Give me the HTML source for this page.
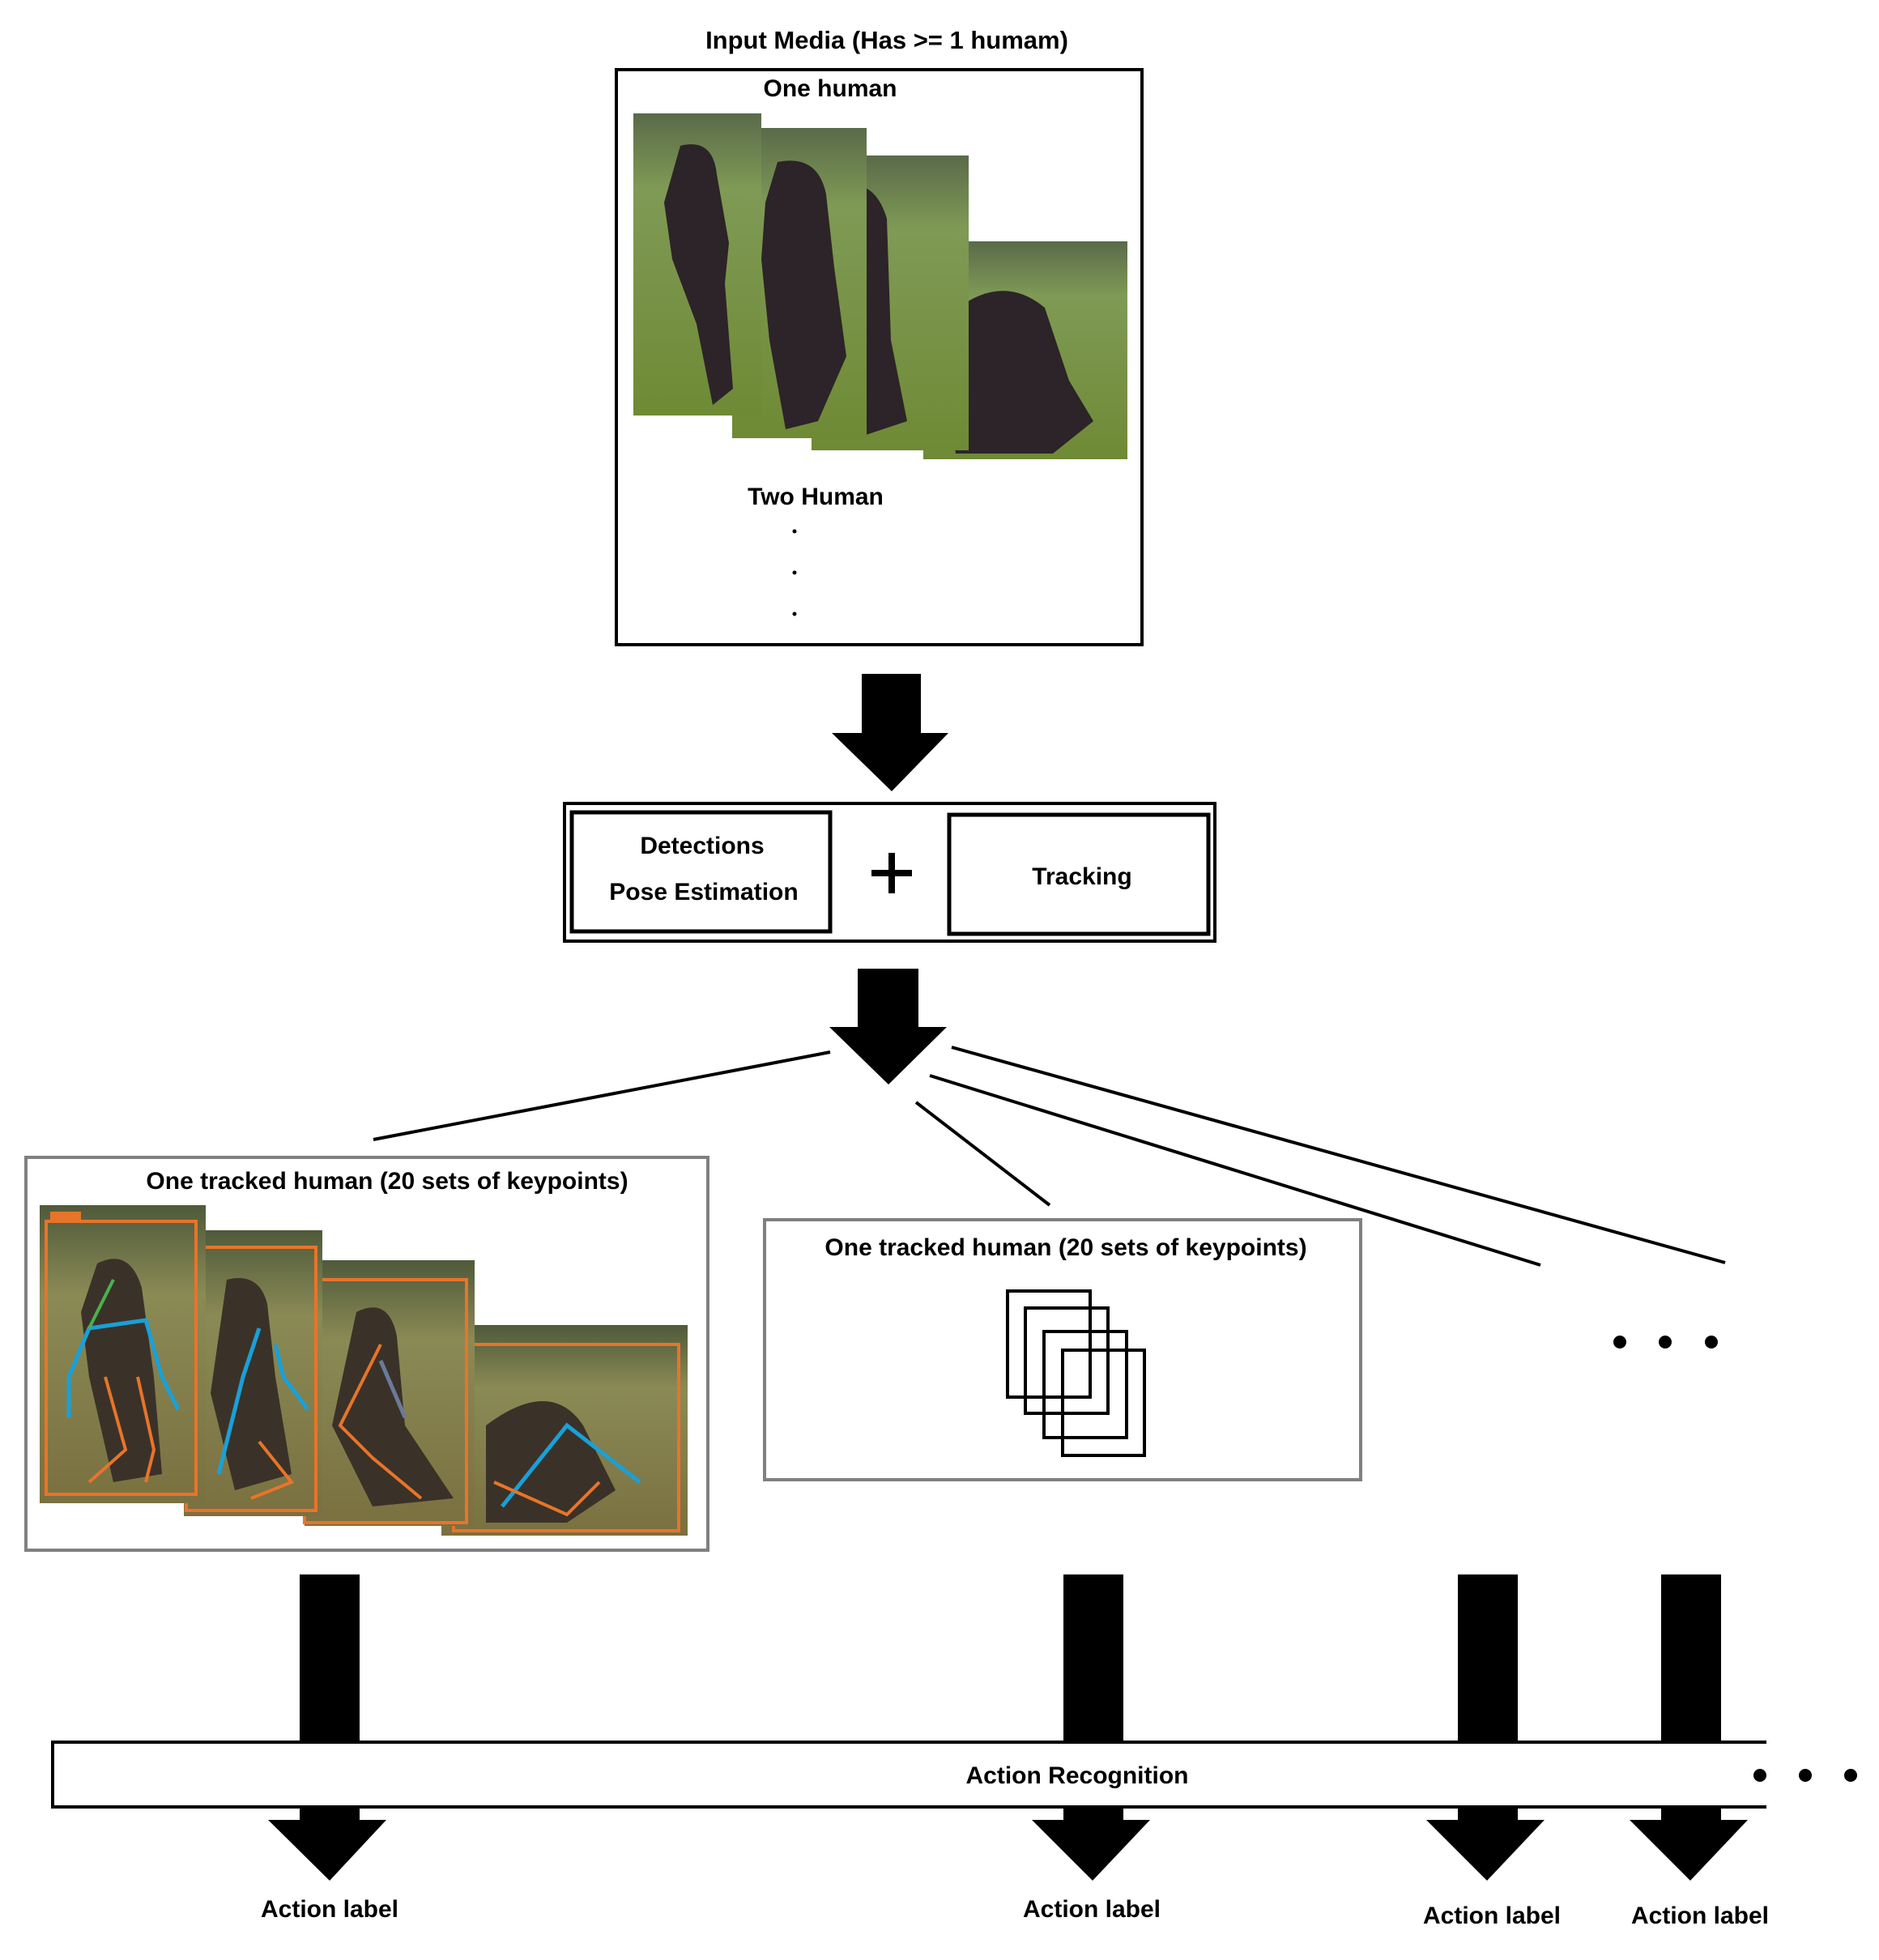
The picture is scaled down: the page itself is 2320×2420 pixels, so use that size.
<!DOCTYPE html>
<html><head><meta charset="utf-8"><style>
html,body{margin:0;padding:0;background:#fff;}
svg{display:block;}
text{font-family:"Liberation Sans",sans-serif;font-weight:bold;fill:#000;}
</style></head><body>
<svg width="2320" height="2420" viewBox="0 0 2320 2420" xmlns="http://www.w3.org/2000/svg">
<defs>
<linearGradient id="g1" x1="0" y1="0" x2="0" y2="1">
<stop offset="0" stop-color="#5a6a4a"/><stop offset="0.25" stop-color="#7f9a55"/><stop offset="1" stop-color="#6f8a35"/>
</linearGradient>
<linearGradient id="g2" x1="0" y1="0" x2="0" y2="1">
<stop offset="0" stop-color="#4f5a3a"/><stop offset="0.3" stop-color="#8a8a55"/><stop offset="1" stop-color="#7a7040"/>
</linearGradient>
</defs>

<text x="1095" y="60" font-size="31" text-anchor="middle">Input Media  (Has &gt;= 1 humam)</text>
<rect x="761" y="86" width="649" height="710" fill="none" stroke="#000" stroke-width="4"/>
<text x="1025" y="119" font-size="30" text-anchor="middle">One human</text>

<!-- top photos, drawn back to front -->
<g>
<rect x="1140" y="298" width="252" height="269" fill="url(#g1)"/>
<path d="M1160 400 Q1230 330 1290 380 L1320 470 L1350 520 L1300 560 L1180 560 Z" fill="#2c2428"/>
<rect x="1002" y="192" width="194" height="364" fill="url(#g1)"/>
<path d="M1040 230 Q1080 220 1095 270 L1100 420 L1120 520 L1060 540 L1030 470 L1005 420 L1010 300 Z" fill="#2c2428"/>
<rect x="904" y="158" width="166" height="383" fill="url(#g1)"/>
<path d="M960 200 Q1010 190 1020 240 L1030 330 L1045 440 L1010 520 L970 530 L950 420 L940 320 L945 250 Z" fill="#2c2428"/>
<rect x="782" y="140" width="158" height="373" fill="url(#g1)"/>
<path d="M840 180 Q880 170 885 215 L900 300 L895 350 L905 480 L880 500 L860 400 L830 320 L820 250 Z" fill="#2c2428"/>
</g>

<text x="1007" y="623" font-size="30" text-anchor="middle">Two Human</text>
<circle cx="981" cy="656" r="2.5" fill="#000"/>
<circle cx="981" cy="707" r="2.5" fill="#000"/>
<circle cx="981" cy="758" r="2.5" fill="#000"/>

<!-- arrow 1 -->
<polygon points="1064,832 1137,832 1137,905 1171,905 1101,977 1027,905 1064,905" fill="#000"/>

<!-- detection/tracking box -->
<rect x="697" y="992" width="803" height="170" fill="none" stroke="#000" stroke-width="4"/>
<rect x="706" y="1003" width="319" height="147" fill="none" stroke="#000" stroke-width="5"/>
<rect x="1172" y="1006" width="320" height="147" fill="none" stroke="#000" stroke-width="5"/>
<text x="867" y="1054" font-size="30" text-anchor="middle">Detections</text>
<text x="869" y="1111" font-size="30" text-anchor="middle">Pose Estimation</text>
<text x="1336" y="1092" font-size="30" text-anchor="middle">Tracking</text>
<rect x="1076" y="1074" width="50" height="8" fill="#000"/>
<rect x="1097" y="1053" width="8" height="50" fill="#000"/>

<!-- arrow 2 -->
<polygon points="1059,1196 1134,1196 1134,1268 1169,1268 1097,1339 1024,1268 1059,1268" fill="#000"/>

<!-- connector lines -->
<g stroke="#000" stroke-width="4">
<line x1="1025" y1="1299" x2="461" y2="1407"/>
<line x1="1131" y1="1361" x2="1296" y2="1488"/>
<line x1="1148" y1="1328" x2="1902" y2="1562"/>
<line x1="1175" y1="1293" x2="2130" y2="1559"/>
</g>

<!-- box A -->
<rect x="32" y="1429" width="842" height="485" fill="none" stroke="#808080" stroke-width="4"/>
<text x="478" y="1468" font-size="30" text-anchor="middle">One tracked human (20 sets of keypoints)</text>
<g>
<rect x="545" y="1636" width="304" height="260" fill="url(#g2)"/>
<rect x="560" y="1660" width="278" height="230" fill="none" stroke="#e8742a" stroke-width="4"/>
<path d="M600 1760 Q680 1700 720 1760 L760 1840 L700 1880 L600 1880 Z" fill="#3a3228"/>
<polyline points="620,1860 700,1760 790,1830" fill="none" stroke="#1aa0d8" stroke-width="5"/>
<polyline points="610,1830 700,1870 740,1830" fill="none" stroke="#e8742a" stroke-width="4"/>
<rect x="376" y="1556" width="210" height="328" fill="url(#g2)"/>
<rect x="376" y="1580" width="200" height="300" fill="none" stroke="#e8742a" stroke-width="4"/>
<path d="M440 1620 Q480 1600 490 1650 L500 1760 L560 1850 L460 1860 L410 1760 Z" fill="#3a3228"/>
<polyline points="470,1660 420,1760 460,1800 520,1850" fill="none" stroke="#e8742a" stroke-width="4"/>
<polyline points="470,1680 500,1750" fill="none" stroke="#6a7a9a" stroke-width="5"/>
<rect x="227" y="1519" width="171" height="353" fill="url(#g2)"/>
<rect x="230" y="1540" width="160" height="325" fill="none" stroke="#e8742a" stroke-width="4"/>
<path d="M280 1580 Q320 1570 330 1610 L340 1700 L360 1820 L290 1840 L260 1720 Z" fill="#3a3228"/>
<polyline points="320,1640 300,1700 285,1760 270,1820" fill="none" stroke="#1aa0d8" stroke-width="5"/>
<polyline points="340,1660 350,1700 380,1740" fill="none" stroke="#1aa0d8" stroke-width="5"/>
<polyline points="320,1780 360,1830 310,1850" fill="none" stroke="#e8742a" stroke-width="4"/>
<rect x="49" y="1488" width="205" height="368" fill="url(#g2)"/>
<rect x="57" y="1508" width="185" height="337" fill="none" stroke="#e8742a" stroke-width="4"/>
<rect x="62" y="1496" width="38" height="14" fill="#e8742a"/>
<path d="M120 1560 Q160 1540 175 1590 L190 1700 L200 1820 L140 1830 L110 1700 L100 1620 Z" fill="#3a3228"/>
<polyline points="85,1700 110,1640 180,1630 200,1700 220,1740" fill="none" stroke="#1aa0d8" stroke-width="5"/>
<polyline points="85,1700 85,1750" fill="none" stroke="#1aa0d8" stroke-width="5"/>
<polyline points="130,1700 155,1790 110,1830" fill="none" stroke="#e8742a" stroke-width="4"/>
<polyline points="170,1700 190,1790 180,1830" fill="none" stroke="#e8742a" stroke-width="4"/>
<polyline points="140,1580 110,1640" fill="none" stroke="#4caf50" stroke-width="4"/>
</g>

<!-- box B -->
<rect x="944" y="1506" width="736" height="321" fill="none" stroke="#808080" stroke-width="4"/>
<text x="1316" y="1550" font-size="30" text-anchor="middle">One tracked human (20 sets of keypoints)</text>
<g fill="none" stroke="#000" stroke-width="4">
<rect x="1244" y="1594" width="102" height="131"/>
<rect x="1266" y="1615" width="102" height="130"/>
<rect x="1289" y="1644" width="102" height="131"/>
<rect x="1312" y="1667" width="101" height="130"/>
</g>

<circle cx="2000" cy="1657" r="8" fill="#000"/>
<circle cx="2056" cy="1657" r="8" fill="#000"/>
<circle cx="2113" cy="1657" r="8" fill="#000"/>

<!-- vertical bars -->
<rect x="370" y="1944" width="74" height="208" fill="#000"/>
<rect x="1313" y="1944" width="74" height="208" fill="#000"/>
<rect x="1800" y="1944" width="74" height="208" fill="#000"/>
<rect x="2051" y="1944" width="74" height="208" fill="#000"/>

<!-- action recognition bar -->
<polyline points="2181,2151 65,2151 65,2231 2181,2231" fill="none" stroke="#000" stroke-width="4"/>
<text x="1330" y="2202" font-size="30" text-anchor="middle">Action Recognition</text>
<circle cx="2173" cy="2192" r="8" fill="#000"/>
<circle cx="2229" cy="2192" r="8" fill="#000"/>
<circle cx="2285" cy="2192" r="8" fill="#000"/>

<!-- bottom arrows -->
<g fill="#000">
<polygon points="370,2233 444,2233 444,2247 477,2247 407,2322 331,2247 370,2247"/>
<polygon points="1313,2233 1387,2233 1387,2247 1420,2247 1349,2322 1274,2247 1313,2247"/>
<polygon points="1800,2233 1874,2233 1874,2247 1907,2247 1836,2322 1761,2247 1800,2247"/>
<polygon points="2051,2233 2125,2233 2125,2247 2158,2247 2087,2322 2012,2247 2051,2247"/>
</g>

<text x="407" y="2367" font-size="30" text-anchor="middle">Action label</text>
<text x="1348" y="2367" font-size="30" text-anchor="middle">Action label</text>
<text x="1842" y="2375" font-size="30" text-anchor="middle">Action label</text>
<text x="2099" y="2375" font-size="30" text-anchor="middle">Action label</text>
</svg>
</body></html>
